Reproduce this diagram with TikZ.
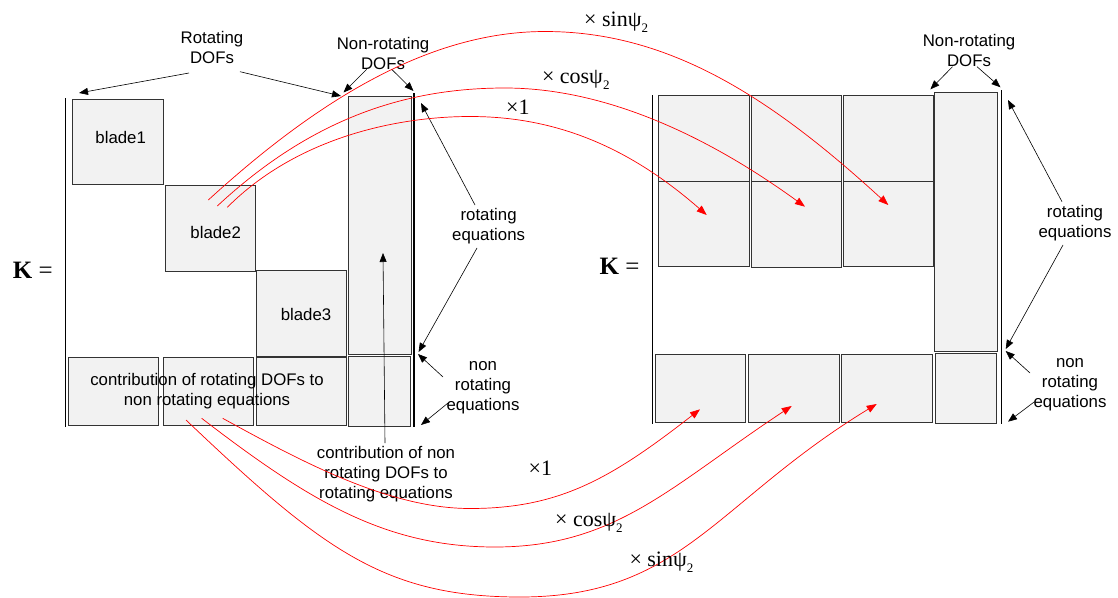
\documentclass[tikz,border=0pt]{standalone}
\usepackage{fontspec}
\setmainfont{Liberation Sans}
\newfontfamily\serifface{Liberation Serif}
\usetikzlibrary{arrows.meta}
\definecolor{cellfill}{HTML}{F2F2F2}
\newcommand\labfont{\fontsize{16.8}{20}\selectfont}
\newcommand\mulfont{\serifface\fontsize{22}{24}\selectfont}
\newcommand\subtwo{\raisebox{-0.28em}{\fontsize{13}{13}\selectfont 2}}
\tikzset{
  cell/.style={draw=black!80, fill=cellfill, line width=0.8pt, inner sep=0pt, outer sep=0pt},
  bar/.style={line width=1.5pt},
  lab/.style={font=\labfont, align=center, inner sep=0pt},
  ann/.style={-{Triangle[length=9pt,width=7pt]}, line width=0.6pt},
  mul/.style={font=\mulfont, inner sep=0pt, anchor=base west},
  redarr/.style={red, line width=0.7pt, -{Triangle[length=10pt,width=7.5pt]}},
  kfont/.style={font=\serifface\fontsize{25}{25}\selectfont, inner sep=0pt}
}
\begin{document}
\begin{tikzpicture}[x=1pt,y=-1pt]
\useasboundingbox (0,0) rectangle (1118,597);

% ---------- left matrix ----------
\node[kfont] (kL) at (32.75,270) {\textbf{K} =};
\draw[bar] (65.5,98) -- (65.5,427);
\draw[bar] (414,93) -- (414,427);
\node[cell, minimum width=90.5pt, minimum height=85pt] (b1) at (117.75,141.5) {};
\node[cell, minimum width=90pt, minimum height=86pt] (b2) at (210,228) {};
\node[cell, minimum width=90.4pt, minimum height=86pt] (b3) at (301.2,313) {};
\node[cell, minimum width=63pt, minimum height=258pt] (tL) at (379.5,225) {};
\node[cell, minimum width=90.6pt, minimum height=68pt] (c1) at (113.3,391.7) {};
\node[cell, minimum width=90pt, minimum height=68pt] (c2) at (208,391.7) {};
\node[cell, minimum width=90.4pt, minimum height=68pt] (c3) at (301.2,391.7) {};
\node[cell, minimum width=62pt, minimum height=70pt] (c4) at (379,391) {};

\node[lab] (bl1) at (120.7,137) {blade1};
\node[lab] (bl2) at (215.7,232) {blade2};
\node[lab] (bl3) at (306,314) {blade3};

\node[lab] (crL) at (207,391) {contribution of rotating DOFs to\\non rotating equations};
\node[lab] (cnrL) at (386,474) {contribution of non\\rotating DOFs to\\rotating equations};
\node[lab] (rotL) at (212,47) {Rotating\\DOFs};
\node[lab] (nrL) at (383,53) {Non-rotating\\DOFs};
\node[lab] (reqL) at (488.6,226) {rotating\\equations};
\node[lab] (nreqL) at (483,388) {non\\rotating\\equations};

\coordinate (eR1) at (79,93);
\coordinate (eR2) at (341,96);
\coordinate (eN1) at (343.5,92.5);
\coordinate (eN2) at (413.5,91);
\coordinate (eQ1) at (421,103);
\coordinate (eQ2) at (418.6,352);
\coordinate (eP1) at (418,354);
\coordinate (eP2) at (421,425);
\coordinate (eC) at (383,253);

\draw[ann] ([shift={(-23,26)}]rotL.center) -- (eR1);
\draw[ann] ([shift={(28,24.7)}]rotL.center) -- (eR2);
\draw[ann] ([shift={(-16.3,16.3)}]nrL.center) -- (eN1);
\draw[ann] ([shift={(8.7,16.3)}]nrL.center) -- (eN2);
\draw[ann] ([shift={(-13.6,-21)}]reqL.center) -- (eQ1);
\draw[ann] ([shift={(-11.6,22)}]reqL.center) -- (eQ2);
\draw[ann] ([shift={(-40,-11)}]nreqL.center) -- (eP1);
\draw[ann] ([shift={(-35,15)}]nreqL.center) -- (eP2);
\draw[ann] ([shift={(-1,-31)}]cnrL.center) -- (eC);

% ---------- right matrix ----------
\node[kfont] (kR) at (619.5,266.7) {\textbf{K} =};
\draw[bar] (652.5,95) -- (652.5,424);
\draw[bar] (1001.3,90) -- (1001.3,424);
\node[cell, minimum width=90.1pt, minimum height=85.3pt] (r11) at (703.85,138.35) {};
\node[cell, minimum width=90.5pt, minimum height=85.3pt] (r12) at (796.25,138.35) {};
\node[cell, minimum width=90pt, minimum height=85.3pt] (r13) at (888,138.35) {};
\node[cell, minimum width=90.1pt, minimum height=85pt] (r21) at (703.85,224.2) {};
\node[cell, minimum width=90.5pt, minimum height=86pt] (r22) at (796.25,224.7) {};
\node[cell, minimum width=90pt, minimum height=85pt] (r23) at (888,224.2) {};
\node[cell, minimum width=62.8pt, minimum height=259pt] (tR) at (966.2,222.2) {};
\node[cell, minimum width=90pt, minimum height=68.7pt] (d1) at (700.5,388.35) {};
\node[cell, minimum width=90.5pt, minimum height=68.7pt] (d2) at (793.75,388.35) {};
\node[cell, minimum width=90.5pt, minimum height=68.7pt] (d3) at (886.75,388.35) {};
\node[cell, minimum width=61.5pt, minimum height=70pt] (d4) at (965.75,388) {};

\node[lab] (nrR) at (969,50) {Non-rotating\\DOFs};
\node[lab] (reqR) at (1075,223) {rotating\\equations};
\node[lab] (nreqR) at (1070,385) {non\\rotating\\equations};

\coordinate (fN1) at (930.4,89.3);
\coordinate (fN2) at (1000.5,87.3);
\coordinate (fQ1) at (1008,100);
\coordinate (fQ2) at (1005.7,349);
\coordinate (fP1) at (1005.7,351);
\coordinate (fP2) at (1008,421.7);

\draw[ann] ([shift={(-16.5,16.7)}]nrR.center) -- (fN1);
\draw[ann] ([shift={(8,16.7)}]nrR.center) -- (fN2);
\draw[ann] ([shift={(-13,-21.3)}]reqR.center) -- (fQ1);
\draw[ann] ([shift={(-12,22)}]reqR.center) -- (fQ2);
\draw[ann] ([shift={(-40,-12)}]nreqR.center) -- (fP1);
\draw[ann] ([shift={(-35.5,16.7)}]nreqR.center) -- (fP2);

% ---------- red mapping curves ----------
\coordinate (s1) at (208.3,200);
\coordinate (s2) at (217.3,206);
\coordinate (s3) at (227.3,207.3);
\coordinate (t1) at (888.3,205);
\coordinate (t2) at (805,206.7);
\coordinate (t3) at (706.7,215);
\coordinate (u1) at (222.7,418.3);
\coordinate (u2) at (201.7,418.3);
\coordinate (u3) at (186,420);
\coordinate (v1) at (700,409.3);
\coordinate (v2) at (791.7,406);
\coordinate (v3) at (876.7,404);

\draw[redarr] (s1) .. controls (321,97) and (432,31.5) .. (545,31.5)
  .. controls (666,31.5) and (767,93.7) .. (t1);
\draw[redarr] (s2) .. controls (313.6,116.4) and (408.7,88) .. (505,88)
  .. controls (604,88) and (706,134.8) .. (t2);
\draw[redarr] (s3) .. controls (298,136.5) and (399,116.5) .. (470,116.5)
  .. controls (551.5,116.5) and (625.2,143.7) .. (t3);
\draw[redarr] (u1) .. controls (303.1,462.5) and (389.6,508.5) .. (470,508.5)
  .. controls (559.2,508.5) and (610.8,478.9) .. (v1);
\draw[redarr] (u2) .. controls (310.3,501.9) and (386.4,547) .. (495,547)
  .. controls (616,547) and (670.7,485.9) .. (v2);
\draw[redarr] (u3) .. controls (321.9,549.1) and (384.1,597) .. (520,597)
  .. controls (682.2,597) and (714.5,502.9) .. (v3);

\node[mul] (m1) at (584,26) {× sinψ\subtwo};
\node[mul] (m2) at (541.8,83) {× cosψ\subtwo};
\node[mul] (m3) at (506,114.3) {×1};
\node[mul] (m4) at (528.5,475) {×1};
\node[mul] (m5) at (555,526.7) {× cosψ\subtwo};
\node[mul] (m6) at (629.3,566.7) {× sinψ\subtwo};
\end{tikzpicture}
\end{document}
